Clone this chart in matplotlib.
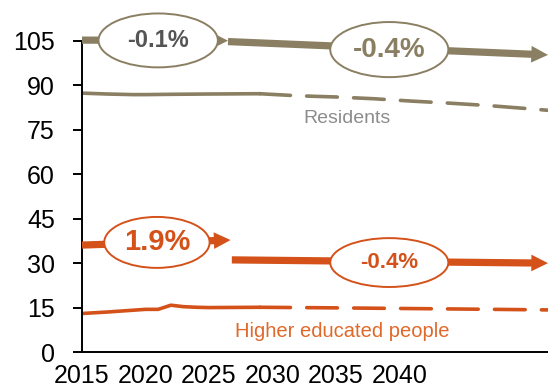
import matplotlib
matplotlib.use("Agg")
import matplotlib.pyplot as plt
from matplotlib.patches import Ellipse

plt.rcParams['font.family'] = ['Liberation Sans', 'DejaVu Sans']

# observed (solid) and projected (dashed) series
res_obs_years = [2015, 2017, 2019, 2020, 2022, 2025, 2029]
res_obs = [87.4, 87.1, 86.9, 86.9, 87.0, 87.1, 87.2]
res_proj_years = [2029, 2032, 2035, 2038, 2041, 2044, 2047, 2050, 2052]
res_proj = [87.2, 86.5, 86.1, 85.5, 84.7, 84.0, 83.2, 82.2, 81.5]

edu_obs_years = [2015, 2017, 2019, 2020, 2021, 2022, 2023, 2024, 2025, 2029]
edu_obs = [13.0, 13.5, 14.1, 14.4, 14.4, 15.8, 15.3, 15.1, 15.0, 15.1]
edu_proj_years = [2029, 2035, 2040, 2045, 2052]
edu_proj = [15.1, 14.9, 14.7, 14.5, 14.2]

# trend arrows: start year, start value, end year, end value, label, label position
res_trends = [(2015, 105.3, 2026.5, 105.1, '-0.1%', 2021.0, 105.2),
              (2026.5, 104.8, 2051.7, 100.3, '-0.4%', 2039.2, 102.1)]
edu_trends = [(2015, 36.1, 2026.7, 37.8, '1.9%', 2020.9, 37.0),
              (2026.8, 31.1, 2051.7, 30.0, '-0.4%', 2039.2, 30.2)]

years_ticks = [2015, 2020, 2025, 2030, 2035, 2040]
y_ticks = [0, 15, 30, 45, 60, 75, 90, 105]

khaki = '#8a7f62'
orange = '#d4521a'

fig = plt.figure(figsize=(5.48, 3.88), dpi=100)
ax = fig.add_axes([82/548, 36/388, 466/548, 311/388])

ax.plot(res_obs_years, res_obs, color=khaki, lw=2.6, solid_capstyle='round')
ax.plot(res_proj_years, res_proj, color=khaki, lw=2.6, dashes=(8.5, 4.5), dash_capstyle='round')
ax.plot(edu_obs_years, edu_obs, color=orange, lw=2.6, solid_capstyle='round')
ax.plot(edu_proj_years, edu_proj, color=orange, lw=2.6, dashes=(8.5, 4.5), dash_capstyle='round')

arrow_style = 'simple,head_length=0.6,head_width=0.6,tail_width=0.26'

# ellipse size and text style for each label
res_boxes = [((9.4, 18.2), 17, '#555555'), ((9.3, 18.6), 20, khaki)]
edu_boxes = [((8.3, 17.2), 21, orange), ((9.3, 16.5), 16, orange)]

for trends, boxes, col in [(res_trends, res_boxes, khaki), (edu_trends, edu_boxes, orange)]:
    for (x0, y0, x1, y1, lab, lx, ly), ((w, h), fs, tcol) in zip(trends, boxes):
        ax.annotate('', xy=(x1, y1), xytext=(x0, y0), annotation_clip=False,
                    arrowprops=dict(arrowstyle=arrow_style, color=col, lw=0,
                                    mutation_scale=20, shrinkA=0, shrinkB=0))
        ax.add_patch(Ellipse((lx, ly), w, h, facecolor='white', edgecolor=col,
                             lw=1.4, zorder=5, clip_on=False))
        ax.text(lx, ly, lab, ha='center', va='center', fontsize=fs,
                fontweight='bold', color=tcol, zorder=6)

ax.text(2035.9, 79, 'Residents', ha='center', va='center', fontsize=14, color='#8c8c8c')
ax.text(2035.5, 6.8, 'Higher educated people', ha='center', va='center', fontsize=14.5, color='#e0682a')

ax.set_xlim(2015, 2051.7)
ax.set_ylim(0, 105)
ax.set_xticks(years_ticks)
ax.set_yticks(y_ticks)
ax.tick_params(axis='y', length=6.5, width=1.4, pad=13, labelsize=18)
ax.tick_params(axis='x', length=0, pad=8.5, labelsize=18)
for side in ['top', 'right']:
    ax.spines[side].set_visible(False)
for side in ['left', 'bottom']:
    ax.spines[side].set_linewidth(1.4)

plt.savefig('out.png', dpi=100)
